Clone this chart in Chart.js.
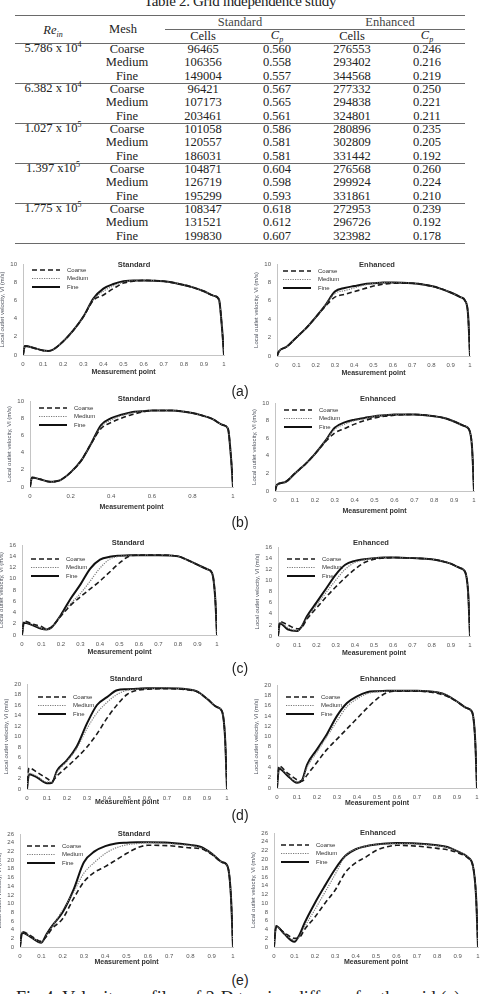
<!DOCTYPE html>
<html>
<head>
<meta charset="utf-8">
<script src="https://cdn.jsdelivr.net/npm/chart.js@4.4.1/dist/chart.umd.min.js"></script>
<style>
body{margin:0;width:480px;height:994px;overflow:hidden;position:relative;background:#fff;font-family:"Liberation Serif","DejaVu Serif",serif;color:#222}
.t{position:absolute;transform:translate(-50%,-50%);white-space:nowrap;font-size:12.5px;line-height:1}
.t sup,.t sub{font-size:8px;line-height:0}
.hl{position:absolute;height:0;border-top:1.4px solid #6a6a6a}
canvas{position:absolute}
.ct{position:absolute;transform:translate(-50%,-50%);font:bold 7.5px "Liberation Sans",Arial,sans-serif;color:#333;white-space:nowrap}
.pl{position:absolute;transform:translate(-50%,-50%);font:14px "Liberation Sans",Arial,sans-serif;color:#222}
#title{position:absolute;left:240px;top:1px;transform:translate(-50%,-50%);font-size:15px;white-space:nowrap;letter-spacing:-0.3px}
#caption{position:absolute;left:16px;top:989px;font-size:18px;line-height:18px;white-space:nowrap}
</style>
</head>
<body>
<div id="title">Table 2. Grid independence study</div>
<div id="caption">Fig 4. Velocity profiles of 2-D turning diffuser for the grid (a)</div>
<script>
// table 2 values
const reBase = ['5.786 x 10', '6.382 x 10', '1.027 x 10', '1.397 x10', '1.775 x 10'];
const reExp = ['4', '4', '5', '5', '5'];
const meshNames = ['Coarse', 'Medium', 'Fine'];
const stdCells = [96465, 106356, 149004, 96421, 107173, 203461, 101058, 120557, 186031, 104871, 126719, 195299, 108347, 131521, 199830];
const stdCp = [0.560, 0.558, 0.557, 0.567, 0.565, 0.561, 0.586, 0.581, 0.581, 0.604, 0.598, 0.593, 0.618, 0.612, 0.607];
const enhCells = [276553, 293402, 344568, 277332, 294838, 324801, 280896, 302809, 331442, 276568, 299924, 331861, 272953, 296726, 323982];
const enhCp = [0.246, 0.216, 0.219, 0.250, 0.221, 0.211, 0.235, 0.205, 0.192, 0.260, 0.224, 0.210, 0.239, 0.192, 0.178];

// velocity profiles, sampled at these measurement points
const measurementPoints = [0, 0.01, 0.05, 0.1, 0.125, 0.15, 0.2, 0.25, 0.3, 0.35, 0.4, 0.45, 0.5, 0.55, 0.6, 0.7, 0.8, 0.85, 0.9, 0.95, 0.975, 0.99, 1];
const xTicksTenth = [0, 0.1, 0.2, 0.3, 0.4, 0.5, 0.6, 0.7, 0.8, 0.9, 1];
const xTicksFifth = [0, 0.2, 0.4, 0.6, 0.8, 1];

const aStdCoarse = [0, 1.0, 0.8, 0.5, 0.45, 0.6, 1.5, 2.7, 4.2, 6.0, 6.6, 7.3, 7.9, 8.1, 8.2, 8.1, 7.7, 7.4, 7.0, 6.5, 6.1, 3, 0];
const aStdMedium = [0, 1.0, 0.8, 0.5, 0.45, 0.6, 1.5, 2.7, 4.2, 6.1, 7.0, 7.6, 8.0, 8.2, 8.2, 8.1, 7.7, 7.4, 7.0, 6.5, 6.1, 3, 0];
const aStdFine = [0, 1.0, 0.8, 0.5, 0.45, 0.6, 1.5, 2.7, 4.2, 6.2, 7.3, 7.8, 8.1, 8.2, 8.2, 8.1, 7.7, 7.4, 7.0, 6.5, 6.1, 3, 0];
const aEnhCoarse = [0, 0.5, 1.0, 2.0, 2.5, 3.0, 4.2, 5.4, 6.4, 6.7, 7.0, 7.3, 7.6, 7.8, 7.9, 7.9, 7.6, 7.3, 6.9, 6.4, 6.0, 4.5, 0];
const aEnhMedium = [0, 0.5, 1.0, 2.0, 2.5, 3.0, 4.2, 5.5, 6.8, 7.1, 7.4, 7.7, 7.9, 8.0, 8.0, 7.9, 7.6, 7.3, 6.9, 6.4, 6.0, 4.5, 0];
const aEnhFine = [0, 0.5, 1.0, 2.0, 2.5, 3.0, 4.2, 5.5, 7.0, 7.4, 7.6, 7.8, 7.9, 8.0, 8.0, 7.9, 7.6, 7.3, 6.9, 6.4, 6.0, 4.5, 0];

const bStdCoarse = [0, 1.1, 0.9, 0.6, 0.65, 0.8, 1.7, 3.0, 5.0, 6.8, 7.5, 8.0, 8.4, 8.7, 8.9, 8.9, 8.6, 8.3, 7.9, 7.2, 6.8, 3.5, 0];
const bStdMedium = [0, 1.1, 0.9, 0.6, 0.65, 0.8, 1.7, 3.0, 5.0, 7.0, 7.8, 8.3, 8.6, 8.8, 8.9, 8.9, 8.6, 8.3, 7.9, 7.2, 6.8, 3.5, 0];
const bStdFine = [0, 1.1, 0.9, 0.6, 0.65, 0.8, 1.7, 3.0, 5.0, 7.2, 8.0, 8.4, 8.7, 8.8, 8.9, 8.9, 8.6, 8.3, 7.9, 7.2, 6.8, 3.5, 0];
const bEnhCoarse = [0, 0.7, 1.0, 2.0, 2.5, 3.0, 4.2, 5.5, 6.6, 7.1, 7.6, 8.0, 8.3, 8.5, 8.6, 8.7, 8.5, 8.3, 7.9, 7.4, 7.0, 5, 0];
const bEnhMedium = [0, 0.7, 1.0, 2.0, 2.5, 3.0, 4.2, 5.6, 7.0, 7.6, 8.0, 8.2, 8.5, 8.6, 8.7, 8.7, 8.5, 8.3, 7.9, 7.4, 7.0, 5, 0];
const bEnhFine = [0, 0.7, 1.0, 2.0, 2.5, 3.0, 4.2, 5.6, 7.2, 7.8, 8.1, 8.3, 8.5, 8.6, 8.7, 8.7, 8.5, 8.3, 7.9, 7.4, 7.0, 5, 0];

const cStdCoarse = [0, 2.5, 2.0, 1.5, 1.1, 1.4, 3.4, 5.3, 6.8, 8.2, 9.6, 11.2, 12.8, 14.0, 14.2, 14.2, 14.0, 13.3, 12.5, 11.7, 11.0, 7, 0];
const cStdMedium = [0, 2.3, 1.9, 1.2, 1.0, 1.3, 3.5, 5.6, 7.4, 9.6, 11.9, 13.5, 14.0, 14.1, 14.2, 14.2, 14.0, 13.3, 12.5, 11.7, 11.0, 7, 0];
const cStdFine = [0, 2.2, 1.8, 1.1, 1.0, 1.3, 3.6, 6.5, 9.0, 11.8, 13.4, 13.9, 14.1, 14.2, 14.2, 14.2, 14.0, 13.3, 12.5, 11.7, 11.0, 7, 0];
const cEnhCoarse = [0, 2.6, 2.0, 1.3, 1.6, 3.0, 5.0, 7.0, 8.8, 10.5, 12.0, 13.2, 13.8, 14.0, 14.1, 14.0, 13.8, 13.5, 13.0, 12.2, 11.5, 8, 0];
const cEnhMedium = [0, 2.4, 1.5, 1.0, 1.7, 3.2, 5.5, 7.8, 10.0, 12.0, 13.2, 13.7, 14.0, 14.1, 14.1, 14.0, 13.8, 13.5, 13.0, 12.2, 11.5, 8, 0];
const cEnhFine = [0, 2.3, 1.2, 0.9, 1.8, 3.5, 6.0, 8.5, 11.0, 12.8, 13.5, 13.8, 14.0, 14.1, 14.1, 14.0, 13.8, 13.5, 13.0, 12.2, 11.5, 8, 0];

const dStdCoarse = [0, 4.0, 3.2, 2.0, 1.5, 2.5, 4.2, 6.0, 8.0, 10.5, 13.5, 16.0, 18.0, 18.8, 19.0, 19.1, 18.9, 18.5, 17.2, 15.6, 14.8, 10, 0];
const dStdMedium = [0, 3.0, 2.4, 1.3, 1.3, 3.2, 5.3, 7.8, 11.5, 14.5, 16.5, 18.0, 18.8, 19.0, 19.1, 19.2, 19.0, 18.6, 17.2, 15.6, 14.8, 10, 0];
const dStdFine = [0, 2.8, 2.2, 1.1, 1.2, 3.5, 5.5, 8.2, 12.5, 16.0, 17.5, 18.8, 19.0, 19.1, 19.2, 19.2, 19.0, 18.6, 17.2, 15.6, 14.8, 10, 0];
const dEnhCoarse = [0, 4.3, 3.0, 1.6, 1.3, 2.5, 5.0, 7.5, 9.5, 11.5, 13.5, 15.5, 17.3, 18.5, 18.8, 18.8, 18.4, 17.8, 16.8, 15.5, 14.8, 10, 0];
const dEnhMedium = [0, 4.0, 2.7, 1.2, 1.4, 4.0, 7.0, 10.0, 13.0, 15.8, 17.3, 18.3, 18.7, 18.8, 18.9, 18.9, 18.6, 18.0, 16.8, 15.5, 14.8, 10, 0];
const dEnhFine = [0, 3.8, 2.5, 1.0, 1.5, 4.5, 7.5, 10.5, 14.0, 16.5, 17.8, 18.6, 18.8, 18.9, 18.9, 18.9, 18.6, 18.0, 16.8, 15.5, 14.8, 10, 0];

const eStdCoarse = [0, 3.5, 2.6, 1.3, 2.5, 4.2, 6.5, 11.0, 15.0, 17.2, 18.5, 20.0, 21.5, 22.8, 23.4, 23.3, 22.8, 22.6, 21.3, 19.5, 18.5, 12, 0];
const eStdMedium = [0, 3.4, 2.4, 1.1, 2.8, 4.6, 8.5, 12.5, 17.0, 19.5, 21.5, 22.8, 23.5, 23.8, 24.0, 23.8, 23.3, 22.8, 21.5, 19.5, 18.5, 12, 0];
const eStdFine = [0, 3.3, 2.3, 1.0, 3.0, 4.8, 8.0, 13.0, 19.5, 22.0, 23.2, 23.8, 24.0, 24.1, 24.1, 24.0, 23.5, 23.0, 21.5, 19.5, 18.5, 12, 0];
const eEnhCoarse = [0, 4.5, 3.3, 2.0, 2.2, 4.0, 6.8, 10.0, 13.0, 17.0, 19.2, 20.5, 22.0, 22.8, 23.2, 23.0, 22.5, 22.2, 21.5, 20.3, 18.5, 12, 0];
const eEnhMedium = [0, 4.6, 3.1, 1.6, 2.4, 4.6, 8.5, 12.5, 16.6, 20.8, 22.3, 23.0, 23.4, 23.5, 23.6, 23.5, 23.1, 22.7, 21.8, 20.5, 18.5, 12, 0];
const eEnhFine = [0, 4.8, 3.0, 1.2, 2.8, 5.5, 10.0, 14.0, 17.8, 20.8, 22.3, 23.0, 23.4, 23.6, 23.7, 23.6, 23.2, 22.8, 21.8, 20.5, 18.5, 12, 0];

// ---- table ----
function put(cls, html, x, y) {
    const d = document.createElement('div');
    d.className = cls;
    d.innerHTML = html;
    d.style.left = x + 'px';
    d.style.top = y + 'px';
    document.body.appendChild(d);
    return d;
}
function hline(x1, x2, y) {
    const d = document.createElement('div');
    d.className = 'hl';
    d.style.left = x1 + 'px';
    d.style.width = (x2 - x1) + 'px';
    d.style.top = y + 'px';
    document.body.appendChild(d);
}

const colX = [53, 127, 203, 277, 352, 427];
hline(15, 465, 15);
hline(165, 465, 29);
hline(15, 465, 43);
put('t', '<i>Re</i><sub><i>in</i></sub>', colX[0], 30);
put('t', 'Mesh', colX[1] - 4, 29);
put('t', 'Standard', 240, 22).style.color = '#444';
put('t', 'Enhanced', 390, 22).style.color = '#444';
put('t', 'Cells', colX[2], 36);
put('t', '<i>C</i><sub><i>p</i></sub>', colX[3], 35);
put('t', 'Cells', colX[4], 36);
put('t', '<i>C</i><sub><i>p</i></sub>', colX[5], 35);

reBase.forEach((base, g) => {
    const top = 49 + g * 40;
    put('t', base + '<sup>' + reExp[g] + '</sup>', colX[0], top - 1);
    meshNames.forEach((m, r) => {
        const i = g * 3 + r;
        const y = top + r * 13.3;
        put('t', m, colX[1], y);
        put('t', stdCells[i], colX[2], y);
        put('t', stdCp[i].toFixed(3), colX[3], y);
        put('t', enhCells[i], colX[4], y);
        put('t', enhCp[i].toFixed(3), colX[5], y);
    });
    hline(15, 465, top + 34);
});

// ---- charts ----
const sans = '"Liberation Sans", Arial, sans-serif';

const insideLegend = {
    id: 'insideLegend',
    afterDraw(chart, args, opts) {
        const {ctx, chartArea} = chart;
        const x0 = chartArea.left + opts.left;
        ctx.save();
        ctx.font = '6px ' + sans;
        ctx.textBaseline = 'middle';
        chart.data.datasets.forEach((ds, i) => {
            const y = chartArea.top + opts.top + i * 8.5;
            ctx.strokeStyle = ds.borderColor;
            ctx.lineWidth = ds.borderWidth;
            ctx.setLineDash(ds.borderDash);
            ctx.beginPath();
            ctx.moveTo(x0, y);
            ctx.lineTo(x0 + 28, y);
            ctx.stroke();
            ctx.fillStyle = '#333';
            ctx.fillText(ds.label, x0 + 35, y);
        });
        ctx.restore();
    }
};

function fmtTick(v) {
    return (v === 0 || v === 1) ? String(v) : v.toFixed(1);
}

function makeChart(p) {
    const yW = 24, padT = 6, padR = 8, xH = p.xH || 22;
    const [l, t, r, b] = p.plot;
    const cv = document.createElement('canvas');
    cv.width = r - l + yW + padR;
    cv.height = b - t + padT + xH;
    cv.style.left = (l - yW) + 'px';
    cv.style.top = (t - padT) + 'px';
    document.body.appendChild(cv);

    put('ct', p.title, p.titleAt[0], p.titleAt[1]);

    const series = [
        ['Coarse', p.coarse, [5, 3], 1.6, '#1a1a1a'],
        ['Medium', p.medium, [1.2, 1.2], 1.2, '#7a7a7a'],
        ['Fine', p.fine, [], 2, '#111']
    ];
    new Chart(cv, {
        type: 'line',
        data: {
            datasets: series.map(([label, vals, dash, bw, col]) => ({
                label,
                data: measurementPoints.map((x, i) => ({x, y: vals[i]})),
                borderColor: col,
                borderDash: dash,
                borderWidth: bw,
                pointRadius: 0,
                fill: false,
                cubicInterpolationMode: 'monotone'
            }))
        },
        options: {
            responsive: false,
            animation: false,
            devicePixelRatio: 1,
            layout: {padding: {top: padT, right: padR, left: 0, bottom: 0}},
            plugins: {
                legend: {display: false},
                tooltip: {enabled: false},
                insideLegend: {top: p.legendTop, left: p.legendLeft || 9}
            },
            scales: {
                x: {
                    type: 'linear', min: 0, max: 1,
                    grid: {display: false, drawTicks: false},
                    border: {color: '#c4c4c4'},
                    afterBuildTicks: s => { s.ticks = p.xTicks.map(v => ({value: v})); },
                    afterFit: s => { s.height = xH; s.paddingLeft = 0; s.paddingRight = 0; },
                    ticks: {padding: 6, color: '#555', font: {size: 6, family: sans}, callback: fmtTick, autoSkip: false, maxRotation: 0},
                    title: {display: true, text: 'Measurement point', color: '#333', font: {size: 7, weight: 'bold', family: sans}, padding: {top: 0, bottom: 1}}
                },
                y: {
                    min: 0, max: p.yMax,
                    grid: {display: false, drawTicks: false},
                    border: {color: '#c4c4c4'},
                    afterFit: s => { s.width = yW; s.paddingTop = 0; s.paddingBottom = 0; },
                    ticks: {stepSize: 2, padding: 6, autoSkip: false, color: '#555', font: {size: 6, family: sans}},
                    title: {display: true, text: 'Local outlet velocity, Vl (m/s)', color: '#4a4f5a', font: {size: 6, family: sans}, padding: 0}
                }
            }
        },
        plugins: [insideLegend]
    });
}

const panels = [
    {plot: [23, 264, 224, 355], yMax: 10, xTicks: xTicksTenth, title: 'Standard', titleAt: [134, 264], legendTop: 6, coarse: aStdCoarse, medium: aStdMedium, fine: aStdFine},
    {plot: [277, 264, 470, 356], yMax: 10, xTicks: xTicksTenth, title: 'Enhanced', titleAt: [377, 264], legendTop: 7, legendLeft: 6, coarse: aEnhCoarse, medium: aEnhMedium, fine: aEnhFine},
    {plot: [30, 401, 233, 487], yMax: 10, xTicks: xTicksFifth, title: 'Standard', titleAt: [134, 398], legendTop: 7, xH: 25, coarse: bStdCoarse, medium: bStdMedium, fine: bStdFine},
    {plot: [275, 403, 474, 491], yMax: 10, xTicks: xTicksTenth, title: 'Enhanced', titleAt: [378, 398], legendTop: 7, xH: 25, coarse: bEnhCoarse, medium: bEnhMedium, fine: bEnhFine},
    {plot: [22, 545, 217, 635], yMax: 16, xTicks: xTicksTenth, title: 'Standard', titleAt: [128, 542], legendTop: 14, coarse: cStdCoarse, medium: cStdMedium, fine: cStdFine},
    {plot: [278, 547, 470, 636], yMax: 16, xTicks: xTicksTenth, title: 'Enhanced', titleAt: [371, 542], legendTop: 12, coarse: cEnhCoarse, medium: cEnhMedium, fine: cEnhFine},
    {plot: [27, 684, 227, 789], yMax: 20, xTicks: xTicksTenth, title: 'Standard', titleAt: [126, 678], legendTop: 13, legendLeft: 11, xH: 18, coarse: dStdCoarse, medium: dStdMedium, fine: dStdFine},
    {plot: [277, 685, 477, 788], yMax: 20, xTicks: xTicksTenth, title: 'Enhanced', titleAt: [378, 678], legendTop: 12, xH: 20, coarse: dEnhCoarse, medium: dEnhMedium, fine: dEnhFine},
    {plot: [20, 834, 233, 947], yMax: 26, xTicks: xTicksTenth, title: 'Standard', titleAt: [134, 833], legendTop: 12, legendLeft: 7, xH: 20, coarse: eStdCoarse, medium: eStdMedium, fine: eStdFine},
    {plot: [274, 833, 478, 947], yMax: 26, xTicks: xTicksTenth, title: 'Enhanced', titleAt: [378, 832], legendTop: 12, legendLeft: 7, xH: 20, coarse: eEnhCoarse, medium: eEnhMedium, fine: eEnhFine}
];
panels.forEach(makeChart);

const panelLabels = ['(a)', '(b)', '(c)', '(d)', '(e)'];
const panelLabelY = [391, 522, 668, 815, 980];
panelLabels.forEach((s, i) => put('pl', s, 240, panelLabelY[i]));
</script>
</body>
</html>
